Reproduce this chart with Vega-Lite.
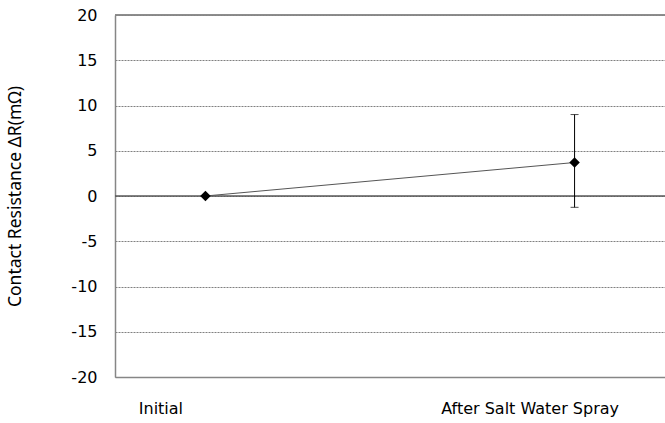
{
  "$schema": "https://vega.github.io/schema/vega-lite/v6.json",
  "width": 550,
  "height": 362,
  "autosize": {"type": "none"},
  "padding": {"left": 115, "top": 15, "right": 0, "bottom": 46},
  "background": "white",
  "config": {
    "view": {"stroke": null},
    "font": "DejaVu Sans",
    "axis": {"labelFont": "DejaVu Sans", "labelFontSize": 16, "labelColor": "#000000", "titleFontWeight": "normal"}
  },
  "data": {
    "values": [
      {"stage": "Initial", "dR": 0, "lo": 0, "hi": 0},
      {"stage": "After Salt Water Spray", "dR": 3.7, "lo": -1.25, "hi": 9.0}
    ]
  },
  "encoding": {
    "x": {
      "field": "stage", "type": "nominal", "sort": null,
      "scale": {"type": "point", "padding": 0.245},
      "axis": {
        "title": null, "labelAngle": 0, "ticks": false, "grid": false,
        "domain": true, "domainColor": "#868686", "domainWidth": 1.5,
        "labelPadding": 23, "labelOffset": -45, "labelFlush": false, "labelBound": false, "labelColor": "#000000"
      }
    }
  },
  "layer": [
    {
      "mark": {"type": "rule", "color": "#868686", "strokeWidth": 1.5},
      "encoding": {"x": null, "y": {"datum": 20, "type": "quantitative"}}
    },
    {
      "mark": {"type": "rule", "color": "#595959", "strokeWidth": 1},
      "encoding": {"x": null, "y": {"datum": 0, "type": "quantitative"}}
    },
    {
      "mark": {"type": "line", "color": "#555555", "strokeWidth": 1},
      "encoding": {
        "y": {
          "field": "dR", "type": "quantitative",
          "scale": {"domain": [-20, 20], "nice": false, "zero": false},
          "axis": {
            "values": [-20, -15, -10, -5, 0, 5, 10, 15, 20],
            "labelExpr": "'' + datum.value",
            "ticks": false, "labelPadding": 18,
            "domain": true, "domainColor": "#868686", "domainWidth": 1.5,
            "grid": true, "gridColor": "#808080", "gridDash": [2, 1], "gridWidth": 1,
            "title": "Contact Resistance ΔR(mΩ)",
            "titleFont": "Noto Sans", "titleFontSize": 17.5, "titleColor": "#000000",
            "titleX": -100, "titleBaseline": "middle", "titleAngle": -90
          }
        }
      }
    },
    {
      "transform": [{"filter": "datum.hi != datum.lo"}],
      "mark": {"type": "rule", "color": "#000000", "strokeWidth": 1},
      "encoding": {
        "y": {"field": "lo", "type": "quantitative"},
        "y2": {"field": "hi"}
      }
    },
    {
      "transform": [{"filter": "datum.hi != datum.lo"}],
      "mark": {"type": "tick", "color": "#000000", "orient": "horizontal", "size": 8, "thickness": 1},
      "encoding": {"y": {"field": "lo", "type": "quantitative"}}
    },
    {
      "transform": [{"filter": "datum.hi != datum.lo"}],
      "mark": {"type": "tick", "color": "#000000", "orient": "horizontal", "size": 8, "thickness": 1},
      "encoding": {"y": {"field": "hi", "type": "quantitative"}}
    },
    {
      "mark": {"type": "point", "shape": "diamond", "filled": true, "color": "#000000", "size": 110, "opacity": 1},
      "encoding": {"y": {"field": "dR", "type": "quantitative"}}
    }
  ]
}
